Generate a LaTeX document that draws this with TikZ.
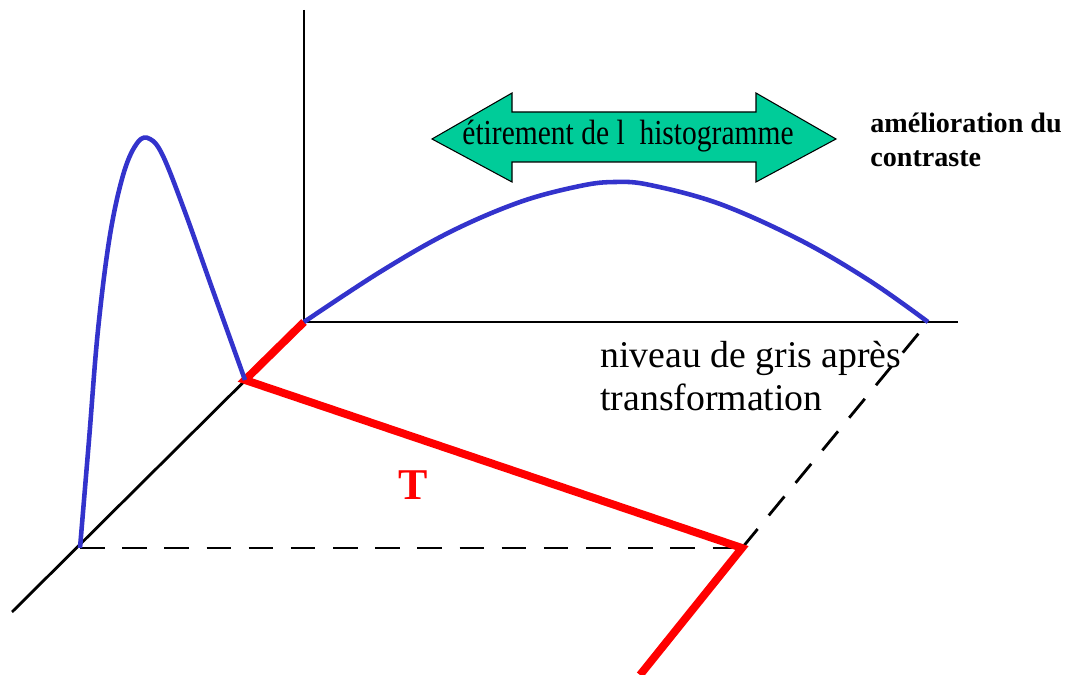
\documentclass[tikz,border=0pt]{standalone}
\usepackage{fontspec}
\setmainfont{Liberation Serif}
\usepackage{graphicx}
\usetikzlibrary{calc, positioning}

\definecolor{courbe}{RGB}{51,51,204}
\definecolor{fleche}{RGB}{0,204,153}

\begin{document}
\begin{tikzpicture}[x=0.02cm, y=-0.02cm]
\useasboundingbox (0,0) rectangle (1076,675);
\def\axw{1.6pt}
\def\curvew{2.6pt}
\def\transw{4.5pt}

\coordinate (O) at (304,322);
\coordinate (Ytop) at (304,10);
\coordinate (Xend) at (958,322);
\coordinate (Zend) at (12,612);
\coordinate (P) at (245,380);
\coordinate (H0) at (80,548);
\coordinate (M) at (742,548);
\coordinate (Tend) at (640,675);
\coordinate (Xmax) at (928,322);

\draw[line width=\axw] (Ytop) -- (O) -- (Xend);
\draw[line width=\axw] (O) -- (Zend);
\draw[line width=\axw, dash pattern=on 14pt off 10pt] (H0) -- (M);
\draw[line width=\axw, dash pattern=on 14pt off 10pt] (M) -- (Xmax);

\draw[red, line width=\transw] (O) -- (P) -- (M) -- (Tend);

\draw[courbe, line width=\curvew] plot[smooth, tension=0.6] coordinates {(80,548) (89,440) (98,330) (110,235) (124,172) (138,142) (150,139) (163,156) (185,212) (212,288) (245,380)};
\draw[courbe, line width=\curvew] plot[smooth, tension=0.6] coordinates {(304,322) (380,272) (450,232) (520,202) (580,186) (615,182) (650,185) (720,204) (800,240) (870,281) (928,322)};

\draw[fill=fleche, line width=0.6pt] (432,139) -- (512,93) -- (512,112) -- (756,112) -- (756,93) -- (836,139)
  -- (756,182) -- (756,162) -- (512,162) -- (512,182) -- cycle;
\node[inner sep=0, font=\fontsize{20}{24}\selectfont] (etirement) at (628,136) {\scalebox{0.84}[1]{étirement de l\ \ histogramme}};

\node[anchor=west, align=left, inner sep=0, font=\bfseries\fontsize{16}{19}\selectfont] (amelioration) at (870,140) {amélioration du\\contraste};
\node[anchor=west, align=left, inner sep=0, font=\fontsize{21.5}{24}\selectfont] (niveau) at (600,376) {niveau de gris après\\transformation};
\node[red, inner sep=0, font=\bfseries\fontsize{25}{30}\selectfont] (T) at (413,485) {T};
\end{tikzpicture}
\end{document}
